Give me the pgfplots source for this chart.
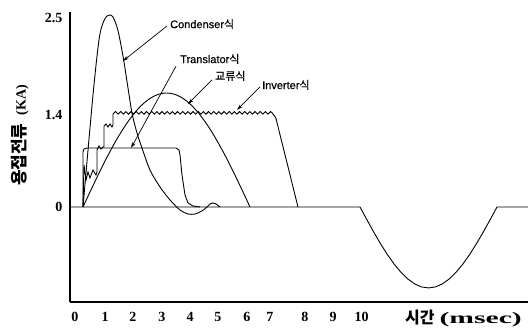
\documentclass[border=0pt]{standalone}
\usepackage{fontspec}
\setmainfont{Liberation Serif}
\newfontfamily\lserif{Liberation Serif}
\newfontfamily\kr{Noto Sans CJK KR}
\newfontfamily\lsans[FakeBold=0.6]{Liberation Sans}
\newfontfamily\krl[FakeBold=0.6]{Noto Sans CJK KR}
\usepackage{pgfplots}
\pgfplotsset{compat=1.18}
\usetikzlibrary{arrows.meta}

\begin{document}
\begin{tikzpicture}[x=1pt,y=1pt]
\useasboundingbox (-70,-27) rectangle (458,302);
\begin{axis}[
  at={(0,0)}, anchor=south west,
  scale only axis, width=458pt, height=290pt,
  xmin=-0.174, xmax=15.784, ymin=-1.257, ymax=2.579,
  axis lines=left,
  axis line style={-, line width=1.6pt},
  major tick length=0pt,
  xtick={0,1.05,2.02,3.03,4.01,4.98,5.99,6.79,8.01,8.99,9.99},
  xticklabels={0,1,2,3,4,5,6,7,8,9,10},
  ytick={0,1.217,2.5},
  yticklabels={0,1.4,2.5},
  /pgf/number format/assume math mode=true,
  ticklabel style={font=\lserif\bfseries\fontsize{14}{14}\selectfont},
  xticklabel style={yshift=-7pt},
  yticklabel style={xshift=-4pt},
  clip=false,
]
\pgfplotsset{cv/.style={black, line width=0.9pt, mark=none}}
% baseline and negative lobe
\addplot[cv] coordinates {(-0.174,0) (9.930,0) (10.169,-0.168) (10.407,-0.331) (10.646,-0.486) (10.885,-0.630) (11.124,-0.757) (11.362,-0.866) (11.601,-0.954) (11.840,-1.019) (12.078,-1.058) (12.317,-1.071) (12.556,-1.058) (12.794,-1.019) (13.033,-0.954) (13.272,-0.866) (13.511,-0.757) (13.749,-0.630) (13.988,-0.486) (14.227,-0.331) (14.465,-0.168) (14.704,0) (15.784,0)};
% Condenser
\addplot[cv, smooth] coordinates {(0.279,0) (0.627,1.481) (0.836,2.209) (0.976,2.434) (1.115,2.526) (1.220,2.540) (1.324,2.513) (1.463,2.381) (1.568,2.209) (1.707,1.918) (1.847,1.574) (1.986,1.243) (2.160,0.979) (2.334,0.780) (2.613,0.489) (2.962,0.265) (3.310,0.093) (3.659,-0.040) (3.937,-0.093) (4.181,-0.093) (4.425,-0.053) (4.599,0) (4.704,0.040) (4.808,0.053) (4.913,0.040) (5.052,0)};
% Translator
\addplot[cv] coordinates {(0.279,0) (0.279,0.728) (0.314,0.767) (0.418,0.780) (3.519,0.780) (3.624,0.754) (3.659,0.688) (3.728,0.423) (3.833,0.159) (3.937,0.053) (4.111,0.013) (4.355,0)};
% AC
\addplot[cv, smooth] coordinates {(0.279,0) (0.570,0.236) (0.861,0.466) (1.152,0.685) (1.443,0.886) (1.734,1.066) (2.025,1.220) (2.316,1.344) (2.607,1.434) (2.898,1.489) (3.189,1.508) (3.480,1.489) (3.771,1.434) (4.062,1.344) (4.352,1.220) (4.643,1.066) (4.934,0.886) (5.225,0.685) (5.516,0.466) (5.807,0.236) (6.098,0)};
% Inverter steps
\addplot[cv] coordinates {(0.279,0) (0.314,0.556) (0.383,0.357) (0.453,0.463) (0.523,0.384) (0.627,0.489) (0.732,0.423) (0.767,0.463) (0.767,0.754) (0.836,0.807) (0.906,0.767) (0.976,0.794) (1.010,0.794) (1.010,1.072) (1.080,1.098) (1.150,1.058) (1.220,1.098) (1.289,1.058) (1.324,1.085) (1.324,1.228)};
% Inverter plateau ripple
\addplot[cv, smooth] coordinates {(1.324,1.228) (1.414,1.262) (1.504,1.228) (1.594,1.262) (1.684,1.228) (1.774,1.262) (1.864,1.228) (1.954,1.262) (2.044,1.228) (2.134,1.262) (2.224,1.228) (2.314,1.262) (2.404,1.228) (2.494,1.262) (2.584,1.228) (2.674,1.262) (2.764,1.228) (2.854,1.262) (2.944,1.228) (3.034,1.262) (3.124,1.228) (3.214,1.262) (3.304,1.228) (3.394,1.262) (3.484,1.228) (3.574,1.262) (3.664,1.228) (3.754,1.262) (3.844,1.228) (3.934,1.262) (4.024,1.228) (4.114,1.262) (4.204,1.228) (4.294,1.262) (4.384,1.228) (4.474,1.262) (4.564,1.228) (4.654,1.262) (4.744,1.228) (4.834,1.262) (4.924,1.228) (5.014,1.262) (5.104,1.228) (5.194,1.262) (5.284,1.228) (5.374,1.262) (5.464,1.228) (5.554,1.262) (5.644,1.228) (5.734,1.262) (5.824,1.228) (5.914,1.262) (6.004,1.228) (6.094,1.262) (6.184,1.228) (6.274,1.262) (6.364,1.228) (6.454,1.262) (6.544,1.228) (6.634,1.262) (6.724,1.228) (6.814,1.262) (6.904,1.228)};
% Inverter drop
\addplot[cv] coordinates {(6.904,1.228) (6.96,1.20) (7.003,1.17) (7.770,0)};
% annotation arrows
\draw[line width=0.7pt, -{Stealth[length=6pt,width=3.5pt]}] (axis cs:3.206,2.394) -- (axis cs:1.672,1.931);
\draw[line width=0.7pt, -{Stealth[length=6pt,width=3.5pt]}] (axis cs:3.519,1.862) -- (axis cs:1.951,0.780);
\draw[line width=0.7pt, -{Stealth[length=6pt,width=3.5pt]}] (axis cs:4.774,1.680) -- (axis cs:3.937,1.362);
\draw[line width=0.7pt, -{Stealth[length=6pt,width=3.5pt]}] (axis cs:6.446,1.587) -- (axis cs:5.645,1.283);
\node[anchor=west, inner sep=0pt, font=\lsans\fontsize{11}{11}\selectfont] at (axis cs:3.31,2.42) {Condenser{\krl 식}};
\node[anchor=west, inner sep=0pt, font=\lsans\fontsize{11}{11}\selectfont] at (axis cs:3.659,1.958) {Translator{\krl 식}};
\node[anchor=west, inner sep=0pt, font=\krl\fontsize{11}{11}\selectfont] at (axis cs:4.878,1.733) {교류식};
\node[anchor=west, inner sep=0pt, font=\lsans\fontsize{11}{11}\selectfont] at (axis cs:6.516,1.614) {Inverter{\krl 식}};
\end{axis}
\node[rotate=90, inner sep=0pt] at (-50,166.5) {{\kr\bfseries\fontsize{17}{17}\selectfont 용접전류}\hspace{8pt}{\lserif\bfseries\fontsize{14}{14}\selectfont (KA)}};
\node[anchor=west, inner sep=0pt] at (335,-16) {{\kr\bfseries\fontsize{16}{16}\selectfont 시간}\hspace{5pt}\scalebox{1.85}[1.0]{\lserif\bfseries\fontsize{16}{16}\selectfont (msec)}};
\end{tikzpicture}
\end{document}
